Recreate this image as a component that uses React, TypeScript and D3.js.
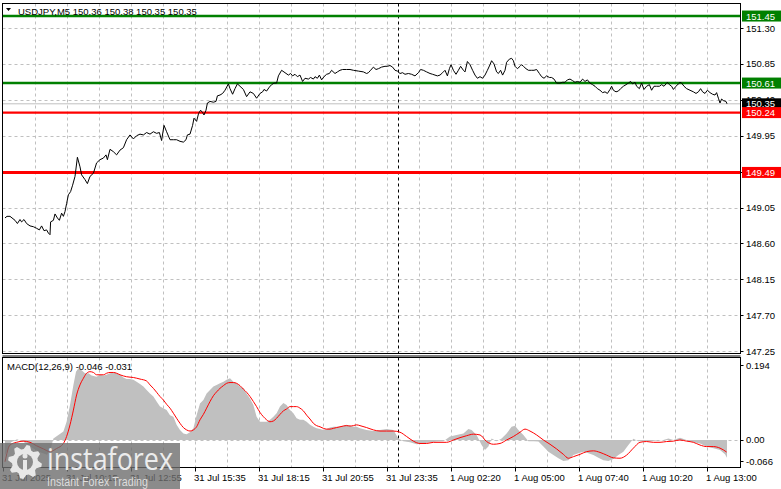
import React from "react";
import * as d3 from "d3";

// ---- DATA ----
const symbolTitle = "USDJPY,M5  150.36 150.38 150.35 150.35";
const macdTitle = "MACD(12,26,9) -0.046 -0.031";

// [bar index (M5), close price]
const priceSeries: [number, number][] = [
  [0,148.92],[1,148.94],[2.5,148.94],[5,148.89],[6.2,148.85],[7.5,148.90],[8.3,148.87],[9.5,148.90],[10.8,148.85],[12.5,148.82],
  [14.2,148.81],[15.8,148.79],[17.2,148.77],[18.3,148.82],[19.5,148.76],[20.8,148.77],[21.7,148.73],[22.5,148.71],[22.8,148.87],[24.2,148.89],
  [25,148.97],[26.2,148.92],[27.2,148.89],[28.3,148.98],[29.2,148.94],[30,149.00],[30.8,149.10],[31.7,149.21],[32.8,149.25],[33.8,149.33],
  [35,149.44],[36.2,149.68],[37.5,149.56],[38.3,149.46],[40,149.40],[41.2,149.35],[42.5,149.44],[44.2,149.48],[45.8,149.61],[47.5,149.65],
  [49.2,149.67],[50.5,149.71],[51.2,149.65],[52.5,149.78],[54.2,149.75],[55.8,149.71],[57.5,149.77],[59.2,149.80],[60.8,149.90],[62.5,149.96],
  [64.2,149.91],[65.8,149.95],[67.5,149.97],[69.2,149.96],[70.8,149.99],[72.5,149.97],[74.2,150.00],[75.8,149.98],[77.2,149.99],[78.3,149.89],
  [79.5,150.08],[80.8,150.00],[82.5,149.90],[84.2,149.90],[85.8,149.90],[87.5,149.88],[89.2,149.87],[90.5,149.90],[91.2,149.96],[92.5,149.97],
  [93.8,150.08],[94.5,150.17],[95.8,150.13],[96.8,150.23],[97.8,150.27],[98.8,150.24],[99.5,150.21],[100.5,150.27],[101.2,150.36],[102.5,150.38],
  [104.2,150.37],[105.5,150.38],[106.2,150.45],[107.5,150.46],[108.8,150.48],[110,150.52],[111.7,150.60],[112.5,150.54],[113.8,150.47],[115,150.54],
  [116.2,150.60],[117.5,150.57],[119.2,150.53],[120.8,150.44],
  [122.5,150.50],[124.2,150.48],[125.8,150.42],[127.5,150.48],[128.8,150.50],[129.5,150.53],[130.8,150.51],[132.2,150.56],[133.3,150.59],[134.5,150.61],
  [135.8,150.61],[136.7,150.70],[138.3,150.77],[140,150.74],[141.7,150.71],[142.8,150.73],[143.8,150.70],[145,150.72],[146.2,150.69],[147.5,150.71],
  [148.8,150.63],[150,150.67],[151.7,150.66],[152.8,150.68],[154.2,150.66],[155,150.69],[156.2,150.67],[157.2,150.71],[158.3,150.65],[159.5,150.69],
  [160.8,150.72],[162.2,150.73],[163.3,150.77],[165,150.73],[166.2,150.75],[167.5,150.77],[168.8,150.78],[170.8,150.78],[172.5,150.78],[174.2,150.77],
  [176.7,150.76],[179.2,150.75],[180.8,150.73],[181.7,150.74],[182.8,150.77],[184.2,150.81],[185.5,150.78],[186.7,150.79],[188.3,150.81],[190,150.82],
  [191.2,150.82],[192.5,150.83],[193.8,150.81],[195,150.77],[196.2,150.76],[197.5,150.73],[198.8,150.74],[200,150.72],[201.7,150.73],[203.3,150.72],
  [205,150.70],[206.7,150.74],[207.8,150.78],[209.2,150.77],[210.8,150.75],[212.5,150.73],[213.8,150.72],[215,150.71],[216.2,150.70],[217.5,150.71],
  [218.8,150.74],[220,150.77],[221.2,150.70],[222.2,150.79],[223,150.84],[224.2,150.77],[225.5,150.72],[226.7,150.77],[227.8,150.82],[229.2,150.77],
  [230,150.75],[231.2,150.88],[232.5,150.84],[233.8,150.77],[235,150.71],[236.2,150.67],
  [237.5,150.69],[238.8,150.67],[240,150.71],[241.2,150.77],[242.5,150.84],[243.3,150.89],[244.5,150.85],[245.8,150.75],[246.7,150.73],[247.8,150.77],
  [248.8,150.71],[250,150.77],[250.8,150.87],[252.2,150.91],[253.3,150.92],[254.2,150.89],[255,150.82],[256.2,150.79],[257.5,150.82],[258.3,150.84],
  [259.2,150.82],[260.5,150.79],[261.7,150.77],[263.3,150.77],[264.5,150.77],[265.8,150.78],[267.2,150.73],[268.3,150.69],[269.5,150.67],[270.8,150.70],
  [272.2,150.68],[273.3,150.68],[274.5,150.66],[275.8,150.61],[277.5,150.61],[278.8,150.62],[280,150.62],[281.2,150.65],[282.5,150.66],[283.8,150.64],
  [285,150.62],[286.2,150.63],[287.5,150.62],[288.8,150.66],[290,150.63],[291.2,150.65],[292.5,150.61],[293.8,150.59],[295,150.57],[296.2,150.54],
  [297.5,150.52],[298.8,150.49],[300,150.50],[301.2,150.48],[302.5,150.53],[303.3,150.57],[304.2,150.52],[305.5,150.50],[306.7,150.51],[307.8,150.54],
  [309.2,150.57],[310.5,150.59],[311.7,150.61],[312.8,150.63],[313.8,150.60],[315,150.62],[315.8,150.57],[317.2,150.54],[318.3,150.61],[319.5,150.53],
  [320.8,150.57],[322.2,150.59],[323.3,150.52],[324.5,150.57],[325.8,150.57],[327.2,150.57],[328.3,150.59],[329.5,150.57],[330.5,150.60],[331.2,150.62],
  [332.2,150.59],[333.3,150.57],[334.2,150.53],[335.5,150.57],[336.7,150.60],[337.5,150.62],[338.3,150.61],[339.5,150.57],[340.8,150.54],[342.5,150.52],
  [344.2,150.50],[345.5,150.48],[346.7,150.50],[347.8,150.54],[348.8,150.50],[350,150.48],[351.2,150.52],[352.5,150.49],[353.8,150.47],[355,150.46],
  [355.8,150.49],[356.7,150.42],[357.5,150.36],[358.3,150.41],[359.2,150.39],[360.5,150.38],[361,150.35]
];

// [bar index, MACD main value] (drawn as histogram)
const macdHistogram: [number, number][] = [
  [0,-0.04],[3,-0.006],[6,0.002],[9,-0.004],[13,-0.018],[17,-0.03],[21,-0.038],[23,-0.02],
  [24.2,0.004],[26.7,0.013],[29.2,0.022],[30.8,0.047],[32.5,0.090],[34.2,0.142],[35.5,0.176],[36.7,0.185],[38.3,0.180],[40,0.172],
  [41.7,0.172],[43.3,0.166],[45.8,0.163],[47.5,0.168],[49.2,0.166],[50.8,0.168],[52.5,0.172],[54.2,0.174],[55.8,0.172],[57.5,0.168],
  [59.2,0.161],[60.8,0.157],[62.5,0.157],[64.2,0.155],[65.8,0.150],[67.5,0.144],[69.2,0.138],[70.8,0.129],[72.5,0.120],[74.2,0.112],
  [75.8,0.099],[77.5,0.086],[79.2,0.082],[80.8,0.077],[82.5,0.064],[84.2,0.060],[85.8,0.039],[87.5,0.026],[89.2,0.017],[90.8,0.015],
  [92.5,0.020],[94.2,0.030],[95.8,0.064],[97.5,0.094],[99.2,0.103],[100.8,0.120],[102.5,0.129],[104.2,0.138],[105.8,0.142],[107.5,0.146],
  [109.2,0.150],[110.8,0.155],[112.5,0.159],[114.2,0.150],[115.8,0.146],[117.5,0.138],[119.2,0.133],[120.8,0.120],[122.5,0.107],[124.2,0.090],
  [125.8,0.060],[127.5,0.047],[129.2,0.047],[130.8,0.047],[132.5,0.052],[134.2,0.060],[135.8,0.069],[137.5,0.086],[139.2,0.095],[140.8,0.090],
  [142.5,0.077],[144.2,0.069],[145.8,0.056],[147.5,0.052],[149.2,0.052],[150.8,0.047],[152.5,0.039],[154.2,0.034],[155.8,0.030],[157.5,0.028],
  [159.2,0.026],[160.8,0.028],[162.5,0.032],[164.2,0.034],[165.8,0.034],[167.5,0.034],[169.2,0.037],[170.8,0.039],[172.5,0.037],[174.2,0.034],
  [175.8,0.034],[177.5,0.030],[180.8,0.026],[184.2,0.023],[187.5,0.026],[190.8,0.028],[194.2,0.026],[196.7,0.004],[199.2,-0.003],[202.5,-0.006],
  [205.8,-0.011],[209.2,-0.009],[212.5,-0.006],[215.8,-0.004],[219.2,-0.003],[222.5,0.009],[225.8,0.013],[229.2,0.017],[231.7,0.028],[233.3,0.026],
  [235.8,0.013],[238.3,-0.013],[240,-0.026],[241.7,-0.017],[243.3,0.004],[245.8,-0.003],[248.3,0.004],[250.8,0.017],[253.3,0.034],[255,0.037],
  [256.7,0.026],[259.2,0.013],[261.7,-0.003],[264.2,-0.003],[266.7,-0.004],[269.2,-0.017],[271.7,-0.030],[274.2,-0.039],[276.7,-0.047],[279.2,-0.054],
  [281.7,-0.052],[284.2,-0.039],[286.7,-0.034],[289.2,-0.030],[291.7,-0.034],[294.2,-0.039],[296.7,-0.046],[299.2,-0.052],[301.7,-0.054],[304.2,-0.049],
  [306.7,-0.039],[309.2,-0.030],[311.7,-0.013],[314.2,0.003],[316.7,-0.003],[319.2,-0.003],[322.5,-0.003],[325.8,-0.001],[329.2,0],[331.7,0.004],
  [334.2,0],[337.5,0.006],[340.8,0],[344.2,-0.006],[347.5,-0.009],[350.8,-0.017],[354.2,-0.021],[357.5,-0.026],[360,-0.037],[361,-0.046]
];

// [bar index, signal value]
const macdSignal: [number, number][] = [
  [0,-0.056],[2.5,-0.013],[5.8,-0.006],[9.2,-0.003],[12.5,-0.006],[15.8,-0.015],[19.2,-0.023],[22.5,-0.030],[25.8,-0.022],[29.2,-0.009],
  [30.8,0.009],[32.5,0.039],[34.2,0.077],[35.8,0.116],[37.5,0.142],[39.2,0.159],[40.8,0.172],[42.5,0.176],[44.2,0.174],[45.8,0.168],
  [47.5,0.168],[49.2,0.168],[50.8,0.172],[52.5,0.174],[54.2,0.174],[55.8,0.172],[57.5,0.168],[60.8,0.163],[64.2,0.161],[67.5,0.157],
  [70.8,0.152],[72.5,0.142],[74.2,0.133],[75.8,0.123],[77.5,0.112],[79.2,0.103],[80.8,0.092],[82.5,0.082],[84.2,0.069],[85.8,0.056],
  [87.5,0.043],[89.2,0.032],[90.8,0.026],[92.5,0.023],[94.2,0.026],[95.8,0.034],[97.5,0.052],[99.2,0.066],[100.8,0.082],[102.5,0.099],
  [104.2,0.114],[105.8,0.124],[107.5,0.133],[109.2,0.140],[110.8,0.146],[112.5,0.148],[114.2,0.148],[115.8,0.146],[117.5,0.140],[119.2,0.131],
  [120.8,0.123],[122.5,0.112],[124.2,0.099],[125.8,0.086],[127.5,0.071],[129.2,0.060],[130.8,0.052],[132.5,0.047],[134.2,0.049],[135.8,0.056],
  [137.5,0.066],[139.2,0.075],[140.8,0.080],[142.5,0.086],[144.2,0.086],[145.8,0.086],[147.5,0.082],[149.2,0.075],[150.8,0.064],[152.5,0.054],
  [154.2,0.043],[155.8,0.037],[157.5,0.034],[159.2,0.030],[160.8,0.028],[162.5,0.028],[164.2,0.030],[165.8,0.032],[167.5,0.034],[169.2,0.036],
  [170.8,0.037],[172.5,0.036],[174.2,0.037],[175.8,0.039],[177.5,0.037],[180.8,0.032],[184.2,0.026],[187.5,0.023],[190.8,0.023],[194.2,0.023],
  [197.5,0.020],[200.8,0.009],[204.2,-0.003],[207.5,-0.009],[210.8,-0.009],[214.2,-0.006],[217.5,-0.006],[220.8,-0.006],[224.2,0],[227.5,0.006],
  [230.8,0.011],[234.2,0.015],[237.5,0.013],[240.8,-0.004],[244.2,-0.011],[247.5,-0.009],[250.8,0],[254.2,0.009],[257.5,0.020],[260,0.028],
  [262.5,0.023],[265.8,0.013],[269.2,0],[272.5,-0.011],[275.8,-0.023],[279.2,-0.037],[281.7,-0.047],[284.2,-0.043],[287.5,-0.037],[290.8,-0.030],
  [294.2,-0.028],[297.5,-0.032],[300.8,-0.039],[304.2,-0.046],[307.5,-0.047],[310.8,-0.039],[314.2,-0.021],[317.5,-0.006],[320.8,-0.004],[324.2,-0.006],
  [327.5,-0.006],[330.8,-0.004],[334.2,-0.003],[337.5,0],[340.8,-0.003],[344.2,-0.006],[347.5,-0.013],[350.8,-0.017],[354.2,-0.017],[357.5,-0.021],
  [360.8,-0.031]
];

const priceTicks = [151.30, 150.85, 150.40, 149.95, 149.50, 149.05, 148.60, 148.15, 147.70, 147.25];
const macdTicks = [0.194, 0.0, -0.066];
const macdGridValues = [0.0];
const timeTickBars = [-1, 31, 63, 95, 127, 159, 191, 223, 255, 287, 319, 351];
const timeTickLabels = [
  "31 Jul 2025", "31 Jul 10:15", "31 Jul 12:55", "31 Jul 15:35", "31 Jul 18:15", "31 Jul 20:55",
  "31 Jul 23:35", "1 Aug 02:20", "1 Aug 05:00", "1 Aug 07:40", "1 Aug 10:20", "1 Aug 13:00"
];
const gridBars = [15, 31, 47, 63, 79, 95, 111, 127, 143, 159, 175, 191, 207, 223, 239, 255, 271, 287, 303, 319, 335, 351];
const daySeparatorBar = 196.25;
const resistanceLevels = [151.45, 150.61];
const supportLevels = [150.24, 149.49];
const bidPrice = 150.35;

// ---- LAYOUT ----
const W = 781, H = 489;
const L = 2.5, R = 740.5;
const mainTop = 3.5, mainBot = 353.5;
const macdTop = 357.5, macdBot = 467.5;
const FONT = "'Liberation Sans', Arial, sans-serif";
const GRID = "#c0c0c0";

const x = d3.scaleLinear().domain([0, 361]).range([5, 727]);
const yP = d3.scaleLinear().domain([147.25, 151.30]).range([351.2, 28]);
const yM = d3.scaleLinear().domain([-0.066, 0.194]).range([465.6, 364.7]);

const priceLine = d3.line<[number, number]>().x(d => x(d[0])).y(d => yP(d[1]));
const signalLine = d3.line<[number, number]>().x(d => x(d[0])).y(d => yM(d[1])).curve(d3.curveMonotoneX);
const histArea = d3.area<[number, number]>().x(d => x(d[0])).y0(() => yM(0)).y1(d => yM(d[1]));

function gearPath(cx: number, cy: number, rOut: number, rIn: number, teeth: number) {
  const pts: [number, number][] = [];
  const n = teeth * 4;
  for (let i = 0; i < n; i++) {
    const a = (i / n) * Math.PI * 2 - Math.PI / 2 + Math.PI / n;
    const r = (i % 4 < 2) ? rOut : rIn;
    pts.push([cx + r * Math.cos(a), cy + r * Math.sin(a)]);
  }
  return "M" + pts.map(p => p.join(",")).join("L") + "Z";
}

export default function App() {
  const macdLabelY = (v: number) => Math.min(Math.max(yM(v), 365), 461);
  return (
    <svg width={W} height={H} style={{ display: "block", position: "absolute", left: 0, top: 0, background: "#fff" }}
      fontFamily={FONT}>
      <defs>
        <clipPath id="mainClip"><rect x={L} y={mainTop} width={R - L} height={mainBot - mainTop} /></clipPath>
        <clipPath id="macdClip"><rect x={L} y={macdTop} width={R - L} height={macdBot - macdTop} /></clipPath>
      </defs>
      <rect x={0} y={0} width={W} height={H} fill="#fff" />

      {/* grids */}
      {gridBars.map((b, i) => (
        <g key={"vg" + i}>
          <line x1={Math.round(x(b)) + 0.5} x2={Math.round(x(b)) + 0.5} y1={mainTop} y2={mainBot} stroke={GRID} strokeDasharray="3,3" />
          <line x1={Math.round(x(b)) + 0.5} x2={Math.round(x(b)) + 0.5} y1={macdTop} y2={macdBot} stroke={GRID} strokeDasharray="3,3" />
        </g>
      ))}
      {priceTicks.map((v, i) => (
        <line key={"hg" + i} x1={L} x2={R} y1={Math.round(yP(v)) + 0.5} y2={Math.round(yP(v)) + 0.5} stroke={GRID} strokeDasharray="3,3" />
      ))}
      {macdGridValues.map((v, i) => (
        <line key={"mg" + i} x1={L} x2={R} y1={Math.round(yM(v)) + 0.5} y2={Math.round(yM(v)) + 0.5} stroke={GRID} strokeDasharray="3,3" />
      ))}

      {/* day separator */}
      <line x1={Math.round(x(daySeparatorBar)) + 0.5} x2={Math.round(x(daySeparatorBar)) + 0.5} y1={mainTop} y2={mainBot} stroke="#000" strokeDasharray="3,3" />
      <line x1={Math.round(x(daySeparatorBar)) + 0.5} x2={Math.round(x(daySeparatorBar)) + 0.5} y1={macdTop} y2={macdBot} stroke="#000" strokeDasharray="3,3" />

      {/* main panel */}
      <g clipPath="url(#mainClip)">
        <line x1={L} x2={R} y1={yP(bidPrice)} y2={yP(bidPrice)} stroke="#c0c0c0" strokeWidth={1} />
        {resistanceLevels.map((v, i) => (
          <line key={"rl" + i} x1={L} x2={R} y1={yP(v)} y2={yP(v)} stroke="#008000" strokeWidth={2.5} />
        ))}
        {supportLevels.map((v, i) => (
          <line key={"sl" + i} x1={L} x2={R} y1={yP(v)} y2={yP(v)} stroke="#ff0000" strokeWidth={i === 0 ? 2.2 : 3} />
        ))}
        <path d={priceLine(priceSeries) || ""} fill="none" stroke="#000" strokeWidth={1} strokeLinejoin="miter" />
      </g>

      {/* MACD panel */}
      <g clipPath="url(#macdClip)">
        <path d={histArea(macdHistogram) || ""} fill="#c0c0c0" stroke="none" />
        <path d={signalLine(macdSignal) || ""} fill="none" stroke="#ff0000" strokeWidth={1} />
      </g>

      {/* frames */}
      <rect x={L} y={mainTop} width={R - L} height={mainBot - mainTop} fill="none" stroke="#000" />
      <rect x={L} y={macdTop} width={R - L} height={macdBot - macdTop} fill="none" stroke="#000" />
      <line x1={L} x2={R} y1={macdTop - 1.5} y2={macdTop - 1.5} stroke="#000" />

      {/* titles */}
      <path d="M6,8 L11,8 L8.5,11 Z" fill="#000" />
      <text x={18} y={14.5} fontSize={9.5} fill="#000">{symbolTitle}</text>
      <text x={7} y={370} fontSize={9.5} fill="#000">{macdTitle}</text>

      {/* price axis */}
      {priceTicks.map((v, i) => (
        <g key={"pt" + i}>
          <line x1={R} x2={R + 3} y1={Math.round(yP(v)) + 0.5} y2={Math.round(yP(v)) + 0.5} stroke="#000" />
          <text x={746} y={yP(v) + 3.5} fontSize={9.5} fill="#000">{v.toFixed(2)}</text>
        </g>
      ))}
      {macdTicks.map((v, i) => (
        <g key={"mt" + i}>
          <line x1={R} x2={R + 3} y1={Math.round(macdLabelY(v)) + 0.5} y2={Math.round(macdLabelY(v)) + 0.5} stroke="#000" />
          <text x={746} y={macdLabelY(v) + 3.5} fontSize={9.5} fill="#000">{v === 0 ? "0.00" : v.toFixed(3)}</text>
        </g>
      ))}

      {/* level labels */}
      {resistanceLevels.map((v, i) => (
        <g key={"rlab" + i}>
          <rect x={742} y={yP(v) - 5.5} width={39} height={11} fill="#008000" />
          <text x={746} y={yP(v) + 3.5} fontSize={9.5} fill="#fff">{v.toFixed(2)}</text>
        </g>
      ))}
      <g>
        <rect x={742} y={yP(bidPrice) - 5.5} width={39} height={11} fill="#000" />
        <text x={746} y={yP(bidPrice) + 3.5} fontSize={9.5} fill="#fff">{bidPrice.toFixed(2)}</text>
      </g>
      {supportLevels.map((v, i) => (
        <g key={"slab" + i}>
          <rect x={742} y={yP(v) - 5.5} width={39} height={11} fill="#ff0000" />
          <text x={746} y={yP(v) + 3.5} fontSize={9.5} fill="#fff">{v.toFixed(2)}</text>
        </g>
      ))}

      {/* time axis */}
      {timeTickBars.map((b, i) => (
        <g key={"tt" + i}>
          <line x1={Math.round(x(b)) + 0.5} x2={Math.round(x(b)) + 0.5} y1={macdBot} y2={macdBot + 4} stroke="#000" />
          <text x={x(b) - 1} y={481} fontSize={9.5} fill="#000">{timeTickLabels[i]}</text>
        </g>
      ))}

      {/* watermark */}
      <g>
        <rect x={0} y={443} width={180} height={46} fill="#6e6e6e" opacity={0.8} />
        <path d={gearPath(25, 462, 17, 13, 8)} fill="#e8e8e8" />
        <circle cx={25} cy={462} r={8} fill="#8b8b8b" />
        <circle cx={25} cy={456} r={2.5} fill="#e8e8e8" />
        <rect x={23} y={460} width={4} height={12} fill="#e8e8e8" />
        <text x={47} y={470} fontSize={31} fill="#ececec" textLength={126} lengthAdjust="spacingAndGlyphs"
          style={{ fontFamily: "'Open Sans', 'Liberation Sans', sans-serif" }}>instaforex</text>
        <text x={47} y={486} fontSize={13} fill="#dcdcdc" textLength={101} lengthAdjust="spacingAndGlyphs">Instant Forex Trading</text>
      </g>
    </svg>
  );
}
